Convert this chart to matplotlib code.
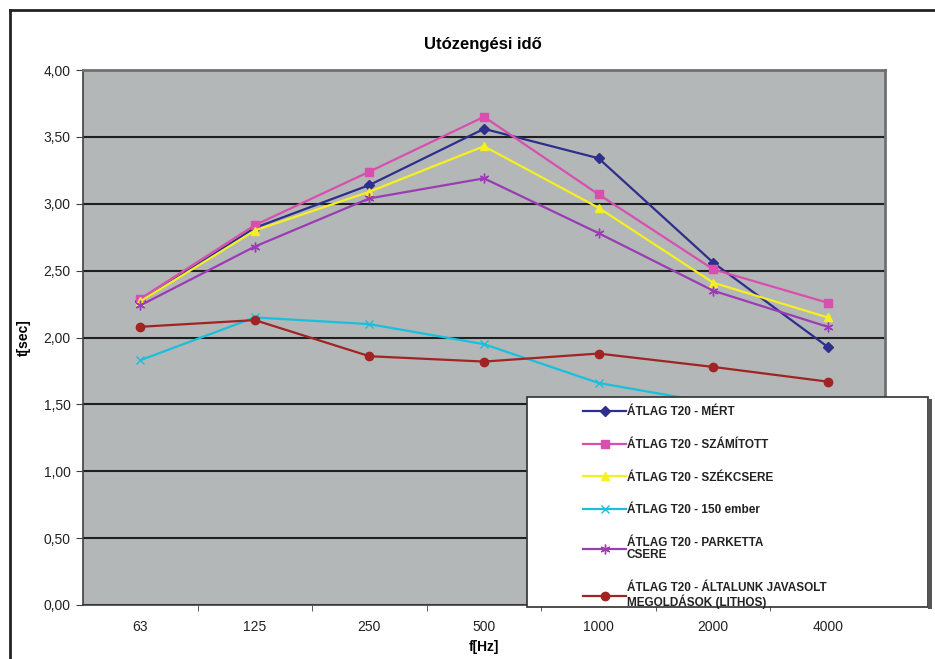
import matplotlib
matplotlib.use('Agg')
import matplotlib.pyplot as plt
from matplotlib.lines import Line2D
from matplotlib.patches import Rectangle
from matplotlib.ticker import FuncFormatter, FixedLocator

plt.rcParams['font.family'] = ['Liberation Sans', 'DejaVu Sans']

freqs = ['63', '125', '250', '500', '1000', '2000', '4000']

mert = [2.27, 2.82, 3.14, 3.56, 3.34, 2.56, 1.93]
szamitott = [2.29, 2.84, 3.24, 3.65, 3.07, 2.51, 2.26]
szekcsere = [2.27, 2.80, 3.09, 3.43, 2.97, 2.41, 2.15]
ember150 = [1.83, 2.15, 2.10, 1.95, 1.66, 1.51, 1.40]
parketta = [2.24, 2.68, 3.04, 3.19, 2.78, 2.35, 2.08]
altalunk = [2.08, 2.13, 1.86, 1.82, 1.88, 1.78, 1.67]

labels = ['ÁTLAG T20 - MÉRT',
          'ÁTLAG T20 - SZÁMÍTOTT',
          'ÁTLAG T20 - SZÉKCSERE',
          'ÁTLAG T20 - 150 ember',
          'ÁTLAG T20 - PARKETTA\nCSERE',
          'ÁTLAG T20 - ÁLTALUNK JAVASOLT\nMEGOLDÁSOK (LITHOS)']

fig = plt.figure(figsize=(9.35, 6.59), dpi=100)
ax = fig.add_axes([83/935, 1 - 605/659, 802/935, 535/659])
ax.set_facecolor('#b3b7b7')

x = range(len(freqs))
series = [
    (mert, '#2e2e8c', 'D', 5),
    (szamitott, '#d94fb0', 's', 6),
    (szekcsere, '#f5f020', '^', 6),
    (ember150, '#18c0dc', 'x', 6),
    (parketta, '#9a3cb4', (6, 2, 0), 7),
    (altalunk, '#a02424', 'o', 6),
]
handles = []
for (vals, col, mk, ms), lab in zip(series, labels):
    h, = ax.plot(x, vals, color=col, marker=mk, markersize=ms, lw=1.6,
                 markeredgecolor=col, markerfacecolor=col, zorder=3)
    handles.append(h)

ax.set_xlim(-0.5, len(freqs) - 0.5)
ax.set_ylim(0, 4)
ax.set_yticks([0, 0.5, 1, 1.5, 2, 2.5, 3, 3.5, 4])
ax.yaxis.set_major_formatter(FuncFormatter(lambda v, p: ('%.2f' % v).replace('.', ',')))
ax.set_xticks(list(x))
ax.set_xticklabels(freqs)
ax.xaxis.set_minor_locator(FixedLocator([i + 0.5 for i in range(len(freqs) - 1)]))
ax.tick_params(axis='x', which='major', length=0, pad=11, labelsize=10)
ax.tick_params(axis='x', which='minor', length=4, color='#404040')
ax.tick_params(axis='y', length=5, color='#404040', labelsize=10, pad=4)
ax.grid(axis='y', color='#202020', lw=1.5)
ax.set_axisbelow(True)
for s in ['left', 'bottom']:
    ax.spines[s].set_color('#404040')
    ax.spines[s].set_linewidth(1.2)
for s in ['top', 'right']:
    ax.spines[s].set_color('#707070')
    ax.spines[s].set_linewidth(2)

for t in ax.get_xticklabels() + ax.get_yticklabels():
    t.set_color('#222222')

ax.set_xlabel('f[Hz]', fontsize=10, fontweight='bold', labelpad=4)
ax.set_ylabel('t[sec]', fontsize=10, fontweight='bold', labelpad=9)
fig.text(0.516, 1 - 45/659, 'Utózengési idő', ha='center', va='center',
         fontsize=12, fontweight='bold')

# legend box
fig.patches.append(Rectangle((527/935, 1 - 607/659), 401/935, 210/659,
                             transform=fig.transFigure, facecolor='white',
                             edgecolor='#303030', lw=1.2, zorder=5))
fig.patches.append(Rectangle((928/935, 1 - 609/659), 4/935, 210/659,
                             transform=fig.transFigure, facecolor='#555555',
                             edgecolor='none', zorder=5))
leg = fig.legend(handles, labels, loc='upper left',
                 bbox_to_anchor=(575/935, 1 - 398/659), frameon=False,
                 fontsize=8.5, handlelength=3.6, handletextpad=0.1,
                 labelspacing=1.75, borderpad=0.2)
leg.set_zorder(6)
for t in leg.get_texts():
    t.set_fontweight('bold')
    t.set_color('#222222')
    t.set_linespacing(1.05)

# outer frame
fig.add_artist(Line2D([10/935, 10/935], [0, 1 - 10/659], color='#222222', lw=2,
                      transform=fig.transFigure))
fig.add_artist(Line2D([10/935, 1], [1 - 10/659, 1 - 10/659], color='#222222', lw=2,
                      transform=fig.transFigure))

fig.savefig('out.png', dpi=100)
